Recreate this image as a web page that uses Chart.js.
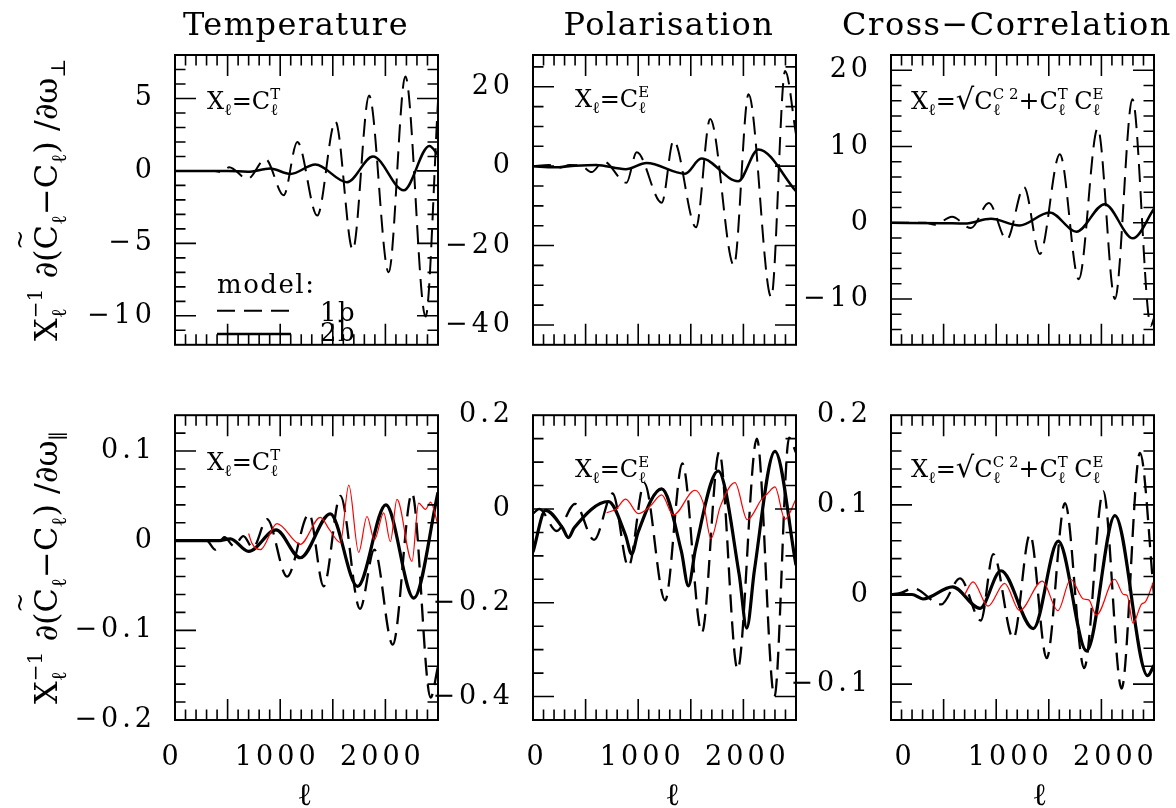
<!DOCTYPE html>
<html>
<head>
<meta charset="utf-8">
<script src="https://cdn.jsdelivr.net/npm/chart.js@4.4.1/dist/chart.umd.min.js"></script>
<style>
  html, body { margin: 0; padding: 0; background: #fff; }
  #wrap { position: relative; width: 1176px; height: 808px; overflow: hidden; }
  canvas { position: absolute; }
</style>
</head>
<body>
<div id="wrap"></div>
<script>
// ---------- DATA ----------
const ellTicks = [0, 1000, 2000];

// Temperature, d/d omega_perp
const tPerpTicks = [-10, -5, 0, 5];
const tPerpEll1b = [0, 380, 440, 515, 690, 860, 1033, 1163, 1352, 1525, 1690, 1845, 2031, 2190, 2382, 2500];
const tPerpVal1b = [0, 0, -0.1, 0.25, -0.55, 0.82, -1.68, 2.0, -3.08, 3.42, -5.45, 5.2, -7.0, 6.52, -10.05, 4.8];
const tPerpEll2b = [0, 500, 690, 905, 1097, 1334, 1635, 1882, 2174, 2418, 2500];
const tPerpVal2b = [0, 0, -0.06, 0.16, -0.21, 0.44, -0.78, 1.0, -1.34, 1.72, 1.12];

// Polarisation, d/d omega_perp
const ePerpTicks = [-40, -20, 0, 20];
const ePerpEll1b = [0, 150, 250, 350, 460, 557, 670, 888, 986, 1224, 1336, 1550, 1684, 1910, 2049, 2265, 2397, 2500];
const ePerpVal1b = [0, 0.3, -0.4, 0.3, 0.1, -1.5, 1.2, -4.2, 3.5, -9.2, 6.5, -15.4, 11.9, -25, 18.1, -33, 24, 8];
const ePerpEll2b = [0, 200, 400, 600, 880, 1080, 1445, 1600, 1950, 2142, 2500];
const ePerpVal2b = [0, -0.3, 0.1, 0.3, -0.75, 0.8, -1.9, 1.9, -3.8, 4.2, -6.3];

// Cross-correlation, d/d omega_perp
const cPerpTicks = [-10, 0, 10, 20];
const cPerpEll1b = [0, 330, 420, 580, 760, 930, 1100, 1265, 1415, 1605, 1785, 1965, 2129, 2295, 2470, 2500];
const cPerpVal1b = [0, 0, -0.25, 0.8, -0.7, 2.6, -2.2, 4.7, -4.1, 9.0, -7.4, 12.4, -10.0, 16.2, -13.5, -12.5];
const cPerpEll2b = [0, 500, 700, 950, 1220, 1508, 1762, 2031, 2300, 2500];
const cPerpVal2b = [0, -0.05, -0.1, 0.52, -0.36, 1.36, -1.16, 2.44, -2.04, 1.84];

// Temperature, d/d omega_par
const tParTicks = [-0.2, -0.1, 0, 0.1];
const tParEll1b = [0, 300, 383, 470, 560, 650, 740, 875, 1065, 1275, 1413, 1572, 1758, 1895, 2070, 2253, 2430, 2500];
const tParVal1b = [0, 0, -0.01, 0.004, -0.006, 0.005, -0.008, 0.024, -0.04, 0.03, -0.051, 0.05, -0.076, -0.01, -0.116, 0.053, -0.175, -0.14];
const tParEll2b = [0, 400, 526, 700, 960, 1191, 1476, 1735, 2005, 2270, 2500];
const tParVal2b = [0, 0, 0.002, -0.012, 0.012, -0.019, 0.030, -0.051, 0.040, -0.064, 0.054];
const tParEllRed = [700, 732, 811, 970, 1191, 1382, 1470, 1572, 1652, 1746, 1825, 1895, 1984, 2047, 2110, 2253, 2316, 2380, 2430, 2500];
const tParValRed = [0.008, -0.003, -0.01, 0.019, -0.004, 0.026, 0.012, -0.002, 0.062, -0.013, 0.027, 0.001, 0.031, -0.001, 0.046, -0.023, 0.042, 0.035, 0.043, 0.017];

// Polarisation, d/d omega_par
const eParTicks = [-0.4, -0.2, 0, 0.2];
const eParEll1b = [0, 60, 225, 400, 580, 757, 907, 1058, 1256, 1420, 1605, 1770, 1945, 2128, 2295, 2435, 2500];
const eParVal1b = [-0.01, 0.0, -0.047, 0.011, -0.066, 0.033, -0.123, 0.055, -0.195, 0.097, -0.264, 0.122, -0.342, 0.15, -0.4, 0.152, 0.12];
const eParEll2b = [0, 120, 280, 336, 392, 716, 878, 938, 998, 1223, 1410, 1477, 1545, 1760, 1960, 2032, 2105, 2300, 2500];
const eParVal2b = [-0.092, -0.003, -0.04, -0.061, -0.04, 0.016, -0.055, -0.096, -0.05, 0.043, -0.09, -0.164, -0.085, 0.081, -0.14, -0.254, -0.13, 0.123, -0.12];
const eParEllRed = [700, 790, 881, 1001, 1110, 1223, 1334, 1540, 1620, 1692, 1780, 1920, 2037, 2174, 2230, 2300, 2395, 2500];
const eParValRed = [-0.008, 0.0, 0.021, -0.01, 0.005, 0.03, -0.013, 0.04, 0.012, -0.063, 0.005, 0.056, -0.023, 0.021, 0.033, 0.047, -0.022, 0.021];

// Cross-correlation, d/d omega_par
const cParTicks = [-0.1, 0, 0.1, 0.2];
const cParEll1b = [0, 100, 209, 478, 656, 854, 972, 1163, 1321, 1480, 1654, 1836, 2018, 2192, 2367, 2500];
const cParVal1b = [0, 0.002, 0.007, -0.011, 0.018, -0.029, 0.045, -0.049, 0.067, -0.071, 0.102, -0.082, 0.115, -0.105, 0.158, 0.0];
const cParEll2b = [0, 200, 304, 585, 846, 1045, 1353, 1590, 1860, 2129, 2440, 2500];
const cParVal2b = [0, 0, -0.005, 0.0085, -0.0155, 0.0265, -0.038, 0.0595, -0.063, 0.088, -0.0905, -0.079];
const cParEllRed = [700, 780, 922, 1080, 1223, 1438, 1587, 1708, 1830, 1880, 1952, 2126, 2210, 2245, 2300, 2380, 2420, 2500];
const cParValRed = [0, 0.014, -0.013, 0.0125, -0.018, 0.015, -0.018, 0.017, -0.005, -0.006, -0.023, 0.017, 0.0, -0.001, -0.032, -0.011, -0.008, 0.016];

// ---------- LAYOUT ----------
const FONT = 'DejaVu Serif';
const colLeft = [175, 533, 891], colRight = [438, 796, 1154];
const rowTop = [55, 405], rowBottom = [370, 720];
const canvasX = [0, 423, 781], padRight = [12, 12, 22];
const canvasY = [0, 380], canvasH = [380, 428];
const xLabelShift = [-3, 4, 14];
const titleX = [296, 669, 1007];
const ellTitleX = [305, 673, 1040];

Chart.defaults.font.family = FONT;

const pts = (ell, val) => ell.map((l, i) => ({ x: l, y: val[i] }));
const dashed = (ell, val, w) => ({ data: pts(ell, val), borderColor: '#000', borderWidth: w, borderDash: [18, 9] });
const solid = (ell, val, w) => ({ data: pts(ell, val), borderColor: '#000', borderWidth: w });
const red = (ell, val) => ({ data: pts(ell, val), borderColor: '#ff0000', borderWidth: 1.2 });

function fmtTick(v) {
  const a = Math.abs(v);
  const s = Number.isInteger(a) ? String(a) : a.toFixed(1);
  return v < 0 ? '\u2212' + s : s;
}

// rich text with sub/superscripts
function richRun(ctx, segs, x, y, draw) {
  let gStart = x, gEnd = x;
  for (const s of segs) {
    ctx.font = s.f + 'px "' + FONT + '"';
    const w = ctx.measureText(s.t).width;
    const sx = s.stack ? gStart : gEnd;
    if (!s.stack) gStart = sx;
    if (draw) {
      ctx.fillText(s.t, sx, y + (s.dy || 0));
      if (s.tilde) {
        ctx.font = '24px "' + FONT + '"';
        const tw = ctx.measureText('~').width;
        ctx.fillText('~', sx + w * 0.4 - tw / 2, y - 29);
      }
    }
    gEnd = Math.max(gEnd, sx + w);
  }
  return gEnd - x;
}
function drawRich(ctx, segs, x, y, center) {
  ctx.textAlign = 'left';
  ctx.textBaseline = 'alphabetic';
  let sx = x;
  if (center) sx = x - richRun(ctx, segs, 0, 0, false) / 2;
  richRun(ctx, segs, sx, y, true);
}

const cl = (sup) => [{ t: 'C', f: 24 }, { t: 'ℓ', f: 16, dy: 6 }, { t: sup, f: 15, dy: -10, stack: true }];
const xEq = [{ t: 'X', f: 24 }, { t: 'ℓ', f: 16, dy: 6 }, { t: '=', f: 24 }];
const annT = [...xEq, ...cl('T')];
const annE = [...xEq, ...cl('E')];
const annC = [...xEq, { t: '√', f: 29 }, ...cl('C 2'), { t: '+', f: 25 }, ...cl('T'), { t: '  ', f: 10 }, ...cl('E')];
const yTitle = (s) => [
  { t: 'X', f: 32 }, { t: 'ℓ', f: 21, dy: 9 }, { t: '\u22121', f: 20, dy: -15, stack: true },
  { t: ' ∂(', f: 32 }, { t: 'C', f: 32, tilde: true }, { t: 'ℓ', f: 21, dy: 9 },
  { t: '\u2212C', f: 32 }, { t: 'ℓ', f: 21, dy: 9 }, { t: ') /∂ω', f: 32 }, { t: s, f: 20, dy: 8 }
];

function eachTick(min, max, minor, major, fn) {
  const k0 = Math.ceil(min / minor - 1e-6), k1 = Math.floor(max / minor + 1e-6);
  const r = Math.round(major / minor);
  for (let k = k0; k <= k1; k++) fn(k * minor, k % r === 0);
}

function deco(p) {
  return {
    id: 'deco' + p.row + p.col,
    beforeDraw(chart) { chart.ctx.letterSpacing = '4px'; },
    afterDraw(chart) {
      const ctx = chart.ctx, a = chart.chartArea, xs = chart.scales.x, ys = chart.scales.y;
      ctx.save();
      ctx.letterSpacing = '0px';
      ctx.strokeStyle = '#000';
      ctx.fillStyle = '#000';
      ctx.lineWidth = 1.6;
      ctx.beginPath();
      eachTick(xs.min, xs.max, 100, 500, (v, major) => {
        const px = xs.getPixelForValue(v);
        if (px < a.left + 2 || px > a.right - 2) return;
        const len = major ? 21 : 10.5;
        ctx.moveTo(px, a.bottom); ctx.lineTo(px, a.bottom - len);
        ctx.moveTo(px, a.top); ctx.lineTo(px, a.top + len);
      });
      eachTick(ys.min, ys.max, p.yMinor, p.yMajor, (v, major) => {
        const py = ys.getPixelForValue(v);
        if (py < a.top + 2 || py > a.bottom - 2) return;
        const len = major ? 21 : 10.5;
        ctx.moveTo(a.left, py); ctx.lineTo(a.left + len, py);
        ctx.moveTo(a.right, py); ctx.lineTo(a.right - len, py);
      });
      ctx.stroke();
      ctx.lineWidth = 2;
      ctx.strokeRect(a.left, a.top, a.right - a.left, a.bottom - a.top);

      drawRich(ctx, p.ann, a.left + p.annDx, a.top + p.annDy, false);

      if (p.title) {
        ctx.font = '32px "' + FONT + '"';
        ctx.letterSpacing = '1.5px';
        ctx.textAlign = 'center';
        ctx.textBaseline = 'alphabetic';
        ctx.fillText(p.title, titleX[p.col] - canvasX[p.col], 35);
        ctx.letterSpacing = '0px';
      }
      if (p.row === 1) {
        ctx.font = '31px "' + FONT + '"';
        ctx.textAlign = 'center';
        ctx.textBaseline = 'alphabetic';
        ctx.fillText('ℓ', ellTitleX[p.col] - canvasX[p.col], 805 - canvasY[p.row]);
      }
      if (p.yTitle) {
        ctx.save();
        ctx.translate(57, (a.top + a.bottom) / 2);
        ctx.rotate(-Math.PI / 2);
        drawRich(ctx, yTitle(p.yTitle), 0, 0, true);
        ctx.restore();
      }
      if (p.legend) {
        ctx.font = '26px "' + FONT + '"';
        ctx.letterSpacing = '1.5px';
        ctx.textAlign = 'left';
        ctx.fillText('model:', a.left + 42, a.top + 238);
        ctx.fillText('1b', a.left + 145, a.top + 266);
        ctx.fillText('2b', a.left + 145, a.top + 285.5);
        ctx.letterSpacing = '0px';
        ctx.beginPath();
        ctx.lineWidth = 2;
        ctx.setLineDash([18, 9]);
        ctx.moveTo(a.left + 42, a.top + 255.7); ctx.lineTo(a.left + 116, a.top + 255.7);
        ctx.stroke();
        ctx.setLineDash([]);
        ctx.beginPath();
        ctx.lineWidth = 2.4;
        ctx.moveTo(a.left + 42, a.top + 279); ctx.lineTo(a.left + 116, a.top + 279);
        ctx.stroke();
      }
      ctx.restore();
    }
  };
}

const panels = [
  { row: 0, col: 0, yMin: -12, yMax: 8, yTicks: tPerpTicks, yMinor: 1, yMajor: 5,
    sets: [solid(tPerpEll2b, tPerpVal2b, 2.5), dashed(tPerpEll1b, tPerpVal1b, 2)],
    ann: annT, annDx: 32, annDy: 54, title: 'Temperature', yTitle: '⊥', legend: true },
  { row: 0, col: 1, yMin: -45, yMax: 28, yTicks: ePerpTicks, yMinor: 5, yMajor: 20,
    sets: [solid(ePerpEll2b, ePerpVal2b, 2.5), dashed(ePerpEll1b, ePerpVal1b, 2)],
    ann: annE, annDx: 42, annDy: 52, title: 'Polarisation' },
  { row: 0, col: 2, yMin: -16, yMax: 22, yTicks: cPerpTicks, yMinor: 2, yMajor: 10,
    sets: [solid(cPerpEll2b, cPerpVal2b, 2.5), dashed(cPerpEll1b, cPerpVal1b, 2)],
    ann: annC, annDx: 20, annDy: 54, title: 'Cross\u2212Correlation' },
  { row: 1, col: 0, yMin: -0.2, yMax: 0.14, yTicks: tParTicks, yMinor: 0.02, yMajor: 0.1,
    sets: [red(tParEllRed, tParValRed), solid(tParEll2b, tParVal2b, 3.2), dashed(tParEll1b, tParVal1b, 2.3)],
    ann: annT, annDx: 32, annDy: 55, yTitle: '∥' },
  { row: 1, col: 1, yMin: -0.45, yMax: 0.2, yTicks: eParTicks, yMinor: 0.05, yMajor: 0.2,
    sets: [red(eParEllRed, eParValRed), solid(eParEll2b, eParVal2b, 3.2), dashed(eParEll1b, eParVal1b, 2.3)],
    ann: annE, annDx: 42, annDy: 62 },
  { row: 1, col: 2, yMin: -0.14, yMax: 0.2, yTicks: cParTicks, yMinor: 0.02, yMajor: 0.1,
    sets: [red(cParEllRed, cParValRed), solid(cParEll2b, cParVal2b, 3.2), dashed(cParEll1b, cParVal1b, 2.3)],
    ann: annC, annDx: 20, annDy: 62 }
];

const wrap = document.getElementById('wrap');
panels.forEach((p) => {
  const cv = document.createElement('canvas');
  const w = colRight[p.col] + padRight[p.col] - canvasX[p.col];
  const h = canvasH[p.row];
  cv.width = w; cv.height = h;
  cv.style.left = canvasX[p.col] + 'px';
  cv.style.top = canvasY[p.row] + 'px';
  cv.style.width = w + 'px'; cv.style.height = h + 'px';
  wrap.appendChild(cv);

  const yW = colLeft[p.col] - canvasX[p.col];
  const xH = canvasY[p.row] + h - rowBottom[p.row];
  const bottomRow = p.row === 1;

  new Chart(cv, {
    type: 'line',
    data: { datasets: p.sets },
    options: {
      responsive: false,
      animation: false,
      devicePixelRatio: 1,
      events: [],
      layout: { padding: { left: 0, right: padRight[p.col], top: rowTop[p.row] - canvasY[p.row], bottom: 0 } },
      plugins: { legend: { display: false }, tooltip: { enabled: false }, title: { display: false } },
      elements: {
        point: { radius: 0 },
        line: { tension: 0.4, cubicInterpolationMode: 'monotone', fill: false }
      },
      scales: {
        x: {
          type: 'linear', min: 0, max: 2500,
          afterBuildTicks: (s) => { s.ticks = ellTicks.map(v => ({ value: v })); },
          afterFit: (s) => { s.height = xH; },
          grid: { display: false, drawTicks: false },
          border: { display: false },
          ticks: {
            display: bottomRow, autoSkip: false, maxRotation: 0, minRotation: 0,
            padding: 22, labelOffset: xLabelShift[p.col], color: '#000',
            font: { family: FONT, size: 27 }, callback: (v) => String(v)
          },
          title: { display: false }
        },
        y: {
          type: 'linear', min: p.yMin, max: p.yMax,
          afterBuildTicks: (s) => { s.ticks = p.yTicks.map(v => ({ value: v })); },
          afterFit: (s) => { s.width = yW; },
          grid: { display: false, drawTicks: false },
          border: { display: false },
          ticks: { padding: 19, color: '#000', font: { family: FONT, size: 27 }, callback: fmtTick }
        }
      }
    },
    plugins: [deco(p)]
  });
});
</script>
</body>
</html>
